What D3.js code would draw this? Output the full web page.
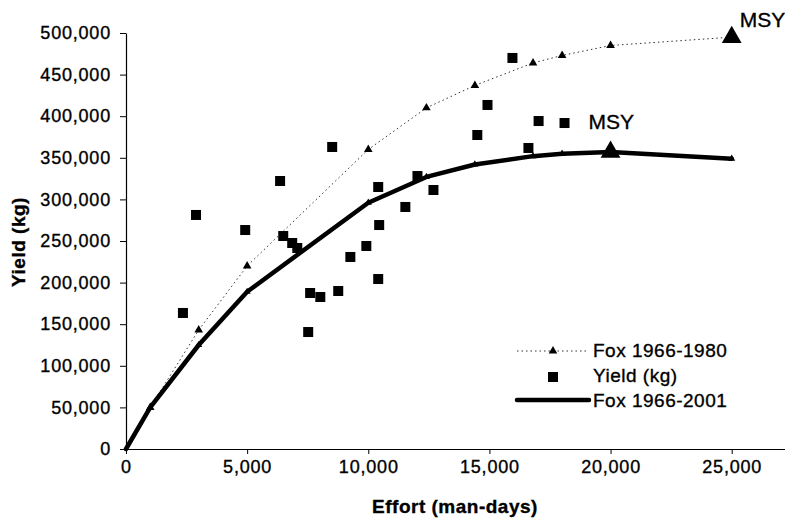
<!DOCTYPE html>
<html>
<head>
<meta charset="utf-8">
<script src="https://cdn.jsdelivr.net/npm/d3@7"></script>
<style>
  html, body { margin: 0; padding: 0; background: #fff; }
  svg { display: block; }
  text { font-family: "Liberation Sans", Arial, sans-serif; fill: #000; stroke: #000; stroke-width: 0.35px; }
</style>
</head>
<body>
<svg id="chart" width="785" height="521"></svg>
<script>
// ---------- data ----------
const efforts   = [0, 1000, 3000, 5000, 10000, 12400, 14400, 16800, 18000, 20000, 25000];
const fox1980   = [0, 50000, 143000, 220000, 360000, 410000, 437000, 464000, 473000, 485000, 495000];
const fox2001   = [0, 50000, 125000, 189000, 296000, 327000, 342000, 352000, 355000, 357000, 349000];
const yieldX    = [2350, 2890, 4920, 6360, 6490, 6860, 7070, 7520, 7600, 8020, 8510, 8760, 9260,
                   9920, 10410, 10450, 10410, 11530, 12030, 12690, 14500, 14920, 15950, 16610, 17030, 18100];
const yieldY    = [163500, 281300, 263200, 322100, 256000, 247600, 241600, 140600, 187500, 182700, 363000, 189900, 230800,
                   244000, 204300, 269200, 314900, 290900, 328100, 311300, 377400, 413500, 470000, 361800, 394200, 391800];
const msyPoints = [{effort: 25000, yield: 495000, label: "MSY"}, {effort: 20000, yield: 357000, label: "MSY"}];
const xTicks    = [0, 5000, 10000, 15000, 20000, 25000];
const yTicks    = [0, 50000, 100000, 150000, 200000, 250000, 300000, 350000, 400000, 450000, 500000];
const legendItems = ["Fox 1966-1980", "Yield (kg)", "Fox 1966-2001"];
const xTitle = "Effort (man-days)";
const yTitle = "Yield (kg)";

// ---------- layout ----------
const svg = d3.select("#chart");
const x = d3.scaleLinear().domain([0, 27200]).range([126, 785]);
const y = d3.scaleLinear().domain([0, 500000]).range([449, 33]);
const fmt = d3.format(",");

// axes
const xAxis = svg.append("g").attr("transform", `translate(0,${y(0)})`)
  .call(d3.axisBottom(x).tickValues(xTicks).tickFormat(fmt).tickSize(5).tickSizeOuter(0));
xAxis.select(".domain").attr("stroke", "#000").attr("stroke-width", 1.2);
xAxis.selectAll(".tick line").attr("stroke", "#000");
xAxis.selectAll(".tick text").attr("font-size", 18).attr("letter-spacing", 0.8)
  .attr("y", 11).attr("dy", "0.71em");

const yAxis = svg.append("g").attr("transform", `translate(${x(0)},0)`)
  .call(d3.axisLeft(y).tickValues(yTicks).tickFormat(fmt).tickSize(6).tickSizeOuter(0));
yAxis.select(".domain").attr("stroke", "#000").attr("stroke-width", 1.2);
yAxis.selectAll(".tick line").attr("stroke", "#000");
yAxis.selectAll(".tick text").attr("font-size", 18).attr("letter-spacing", 0.8)
  .attr("x", -15);
svg.selectAll(".tick text").attr("font-family", "Liberation Sans, Arial, sans-serif");

// axis titles
svg.append("text").attr("x", 455).attr("y", 513).attr("text-anchor", "middle")
  .attr("font-size", 19).attr("font-weight", "bold").attr("letter-spacing", 0.5).text(xTitle);
svg.append("text").attr("transform", "translate(25,242) rotate(-90)").attr("text-anchor", "middle")
  .attr("font-size", 19).attr("font-weight", "bold").attr("letter-spacing", 0.5).text(yTitle);

// lines
const pts1980 = efforts.map((e, i) => [e, fox1980[i]]);
const pts2001 = efforts.map((e, i) => [e, fox2001[i]]);
const line = d3.line().x(d => x(d[0])).y(d => y(d[1])).curve(d3.curveLinear);

svg.append("path").datum(pts1980).attr("d", line).attr("fill", "none")
  .attr("stroke", "#333").attr("stroke-width", 1).attr("stroke-dasharray", "1.5,3");
svg.append("path").datum(pts2001).attr("d", line).attr("fill", "none")
  .attr("stroke", "#000").attr("stroke-width", 4.5).attr("stroke-linejoin", "round").attr("stroke-linecap", "round");

const smallTri = d3.symbol().type(d3.symbolTriangle).size(32);
const bigTri = d3.symbol().type(d3.symbolTriangle).size(170);

svg.append("g").selectAll("path").data(pts1980.slice(1, -1)).join("path")
  .attr("d", smallTri).attr("transform", d => `translate(${x(d[0])},${y(d[1])})`).attr("fill", "#000");
svg.append("g").selectAll("path").data(pts2001.slice(1)).join("path")
  .attr("d", d3.symbol().type(d3.symbolTriangle).size(22))
  .attr("transform", d => `translate(${x(d[0])},${y(d[1])})`).attr("fill", "#000");

// scatter squares
const sq = 10;
svg.append("g").selectAll("rect").data(yieldX.map((v, i) => [v, yieldY[i]])).join("rect")
  .attr("x", d => x(d[0]) - sq / 2).attr("y", d => y(d[1]) - sq / 2)
  .attr("width", sq).attr("height", sq).attr("fill", "#000");

// MSY markers
svg.append("g").selectAll("path").data(msyPoints).join("path")
  .attr("d", bigTri).attr("transform", d => `translate(${x(d.effort)},${y(d.yield)})`).attr("fill", "#000");
svg.append("text").attr("x", x(msyPoints[0].effort) + 8).attr("y", 27)
  .attr("font-size", 21).text(msyPoints[0].label);
svg.append("text").attr("x", x(msyPoints[1].effort) - 22).attr("y", 129)
  .attr("font-size", 21).text(msyPoints[1].label);

// legend
const lg = svg.append("g");
const lx0 = 517, lx1 = 589, lmid = 553, tx = 593;
// row 1
lg.append("line").attr("x1", lx0).attr("x2", lx1).attr("y1", 351).attr("y2", 351)
  .attr("stroke", "#333").attr("stroke-width", 1).attr("stroke-dasharray", "1.5,3");
lg.append("path").attr("d", smallTri).attr("transform", `translate(${lmid},351)`).attr("fill", "#000");
lg.append("text").attr("x", tx).attr("y", 357).attr("font-size", 19).attr("letter-spacing", 0.5).text(legendItems[0]);
// row 2
lg.append("rect").attr("x", lmid - 5).attr("y", 372).attr("width", 10).attr("height", 10).attr("fill", "#000");
lg.append("text").attr("x", tx).attr("y", 382).attr("font-size", 19).attr("letter-spacing", 0.5).text(legendItems[1]);
// row 3
lg.append("line").attr("x1", lx0).attr("x2", lx1).attr("y1", 400).attr("y2", 400)
  .attr("stroke", "#000").attr("stroke-width", 4.5).attr("stroke-linecap", "round");
lg.append("text").attr("x", tx).attr("y", 407).attr("font-size", 19).attr("letter-spacing", 0.5).text(legendItems[2]);
</script>
</body>
</html>
